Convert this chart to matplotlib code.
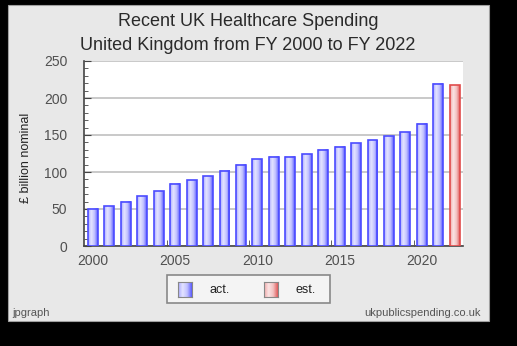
import numpy as np
import matplotlib
matplotlib.use('Agg')
from matplotlib import pyplot as plt
from matplotlib.patches import Rectangle
from matplotlib.colors import LinearSegmentedColormap
from matplotlib.ticker import MultipleLocator, FixedLocator

plt.rcParams['font.family'] = ['Liberation Sans', 'DejaVu Sans']

# data
years = list(range(2000, 2023))
spend = [50, 54, 59.5, 67, 74, 84, 89, 94.5, 102, 109.5, 117, 120.7, 120.7, 124,
         130, 134, 139, 143, 148.5, 154, 165, 219, 217.5]
kind = ['act'] * 22 + ['est']

blue_cm = LinearSegmentedColormap.from_list('b', ['#a8a8ff', '#e4e4ff', '#c0c0ff', '#5a5aff'], N=64)
red_cm = LinearSegmentedColormap.from_list('r', ['#f0a8a8', '#fbe4e4', '#f2c0c0', '#e05a5a'], N=64)
grad = np.linspace(0, 1, 64).reshape(1, -1)

fig = plt.figure(figsize=(5.17, 3.46), dpi=100)
fig.patch.set_facecolor('black')

# gray panel
fig.patches.append(Rectangle((8/517, 1 - 321/346), 481/517, 316/346, transform=fig.transFigure,
                             facecolor='#e8e8e8', edgecolor='#a0a0a0', lw=0.8, zorder=-2))

ax = fig.add_axes([84/517, 1 - 246/346, 379/517, 185/346])
ax.set_facecolor('white')

w = 0.6
for x, v, k in zip(years, spend, kind):
    cm = blue_cm if k == 'act' else red_cm
    ec = '#4c4cff' if k == 'act' else '#e04c4c'
    ax.imshow(grad, cmap=cm, aspect='auto', extent=[x - w/2, x + w/2, 0, v],
              interpolation='bilinear', zorder=3)
    ax.add_patch(Rectangle((x - w/2, 0), w, v, facecolor='none', edgecolor=ec, lw=1.2, zorder=4))

ax.set_xlim(1999.46, 2022.5)
ax.set_ylim(0, 250)

ax.yaxis.set_major_locator(MultipleLocator(50))
ax.yaxis.set_minor_locator(MultipleLocator(10))
ax.grid(axis='y', which='major', color='#c0c0c0', lw=1.2, zorder=1)
ax.set_axisbelow(True)
ax.set_xticks([2000, 2005, 2010, 2015, 2020])
ax.xaxis.set_minor_locator(FixedLocator([2004.5, 2009.5, 2014.5, 2019.5]))
ax.tick_params(axis='x', which='major', length=0, labelsize=10, labelcolor='#505050', pad=6)
ax.tick_params(axis='x', which='minor', direction='in', length=4, color='#444444')
ax.tick_params(axis='y', which='major', direction='in', length=5, labelsize=10,
               labelcolor='#505050', color='#444444', pad=12)
ax.tick_params(axis='y', which='minor', direction='in', length=3, color='#444444')

for s in ['top', 'right']:
    ax.spines[s].set_visible(False)
for s in ['left', 'bottom']:
    ax.spines[s].set_color('#444444')
    ax.spines[s].set_linewidth(1.2)

fig.text(248/517, 1 - 22/346, 'Recent UK Healthcare Spending', ha='center', va='center',
         fontsize=13, color='#2a2a2a')
fig.text(248/517, 1 - 45/346, 'United Kingdom from FY 2000 to FY 2022', ha='center', va='center',
         fontsize=13, color='#2a2a2a')
fig.text(26/517, 1 - 158/346, '£ billion nominal', rotation=90, ha='center', va='center',
         fontsize=9, color='#222222')
fig.text(12/517, 1 - 313/346, 'jpgraph', ha='left', va='center', fontsize=8, color='#555555')
fig.text(481/517, 1 - 313/346, 'ukpublicspending.co.uk', ha='right', va='center', fontsize=8,
         color='#555555')

# legend box
fig.patches.append(Rectangle((167/517, 1 - 303/346), 163/517, 28/346, transform=fig.transFigure,
                             facecolor='#f4f4f4', edgecolor='#888888', lw=1.2, zorder=-1))
for lx, cm, ec, lab in [(178, blue_cm, '#4848ff', 'act.'), (264, red_cm, '#e04848', 'est.')]:
    sw = fig.add_axes([lx/517, 1 - 297/346, 14/517, 15/346])
    sw.imshow(grad, cmap=cm, aspect='auto', interpolation='bilinear')
    sw.set_xticks([])
    sw.set_yticks([])
    for s in sw.spines.values():
        s.set_color('#888888')
    fig.text((lx + 32)/517, 1 - 290/346, lab, ha='left', va='center', fontsize=9, color='#222222')

fig.savefig('out.png', dpi=100, facecolor=fig.get_facecolor())
